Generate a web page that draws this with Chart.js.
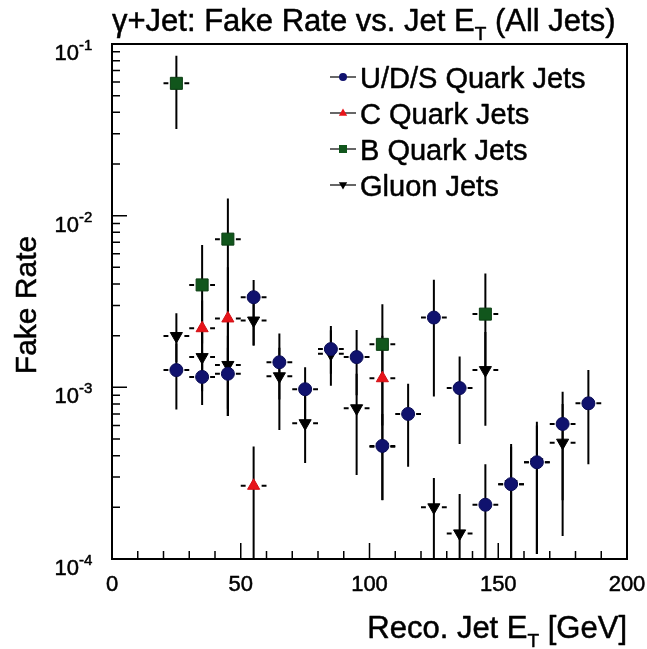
<!DOCTYPE html>
<html>
<head>
<meta charset="utf-8">
<script src="https://cdn.jsdelivr.net/npm/chart.js"></script>
<style>
  html, body { margin: 0; padding: 0; background: #fff; }
</style>
</head>
<body>
<canvas id="fakeRate" width="647" height="649"></canvas>
<script>
// Jet ET bin centres [GeV] and fake rates
const udsX  = [25, 35, 45, 55, 65, 75, 85, 95, 105, 115, 125, 135, 145, 155, 165, 175, 185];
const udsY  = [0.00126, 0.00115, 0.0012, 0.00335, 0.0014, 0.000975, 0.00167, 0.0015, 0.000456, 0.0007, 0.00255, 0.00099, 0.000207, 0.000273, 0.000366, 0.000612, 0.000807];
const udsHi = [0.0018, 0.0016, 0.0017, 0.00422, 0.00206, 0.00131, 0.00228, 0.00216, 0.0008, 0.00105, 0.00423, 0.00151, 0.000356, 0.000467, 0.00063, 0.000944, 0.00126];
const udsLo = [0.000744, 0.00079, 0.00068, 0.00175, 0.00085, 0.00065, 0.0012, 0.0009, 0.000221, 0.000345, 0.000883, 0.000467, 0.00001, 0.00001, 0.000107, 0.00022, 0.000356];

const cX  = [35, 45, 55, 105];
const cY  = [0.00221, 0.00252, 0.000267, 0.00113];
const cHi = [0.0032, 0.005, 0.000452, 0.002];
const cLo = [0.0012, 0.00068, 0.00001, 0.0006];

const bX  = [25, 35, 45, 105, 145];
const bY  = [0.059, 0.00395, 0.0073, 0.00178, 0.00267];
const bHi = [0.0855, 0.00675, 0.0126, 0.00305, 0.00461];
const bLo = [0.032, 0.0018, 0.00068, 0.0008, 0.0012];

const gX  = [25, 35, 45, 55, 65, 75, 85, 95, 105, 125, 135, 145, 155, 165, 175];
const gY  = [0.00199, 0.0015, 0.00135, 0.00245, 0.00116, 0.000618, 0.00157, 0.000755, 0.00045, 0.0002, 0.000141, 0.00126, 0.000273, 0.000366, 0.000476];
const gHi = [0.0027, 0.0021, 0.002, 0.0033, 0.0017, 0.0009, 0.00215, 0.0012, 0.0007, 0.000296, 0.000239, 0.0021, 0.00045, 0.0006, 0.0008];
const gLo = [0.0014, 0.00095, 0.00075, 0.00175, 0.000565, 0.000362, 0.00102, 0.000309, 0.00022, 0.00001, 0.00001, 0.000598, 0.00001, 0.000107, 0.000136];

const seriesLabels = ['U/D/S Quark Jets', 'C Quark Jets', 'B Quark Jets', 'Gluon Jets'];
const xTickLabels = [0, 50, 100, 150, 200];
const yTickExponents = [-1, -2, -3, -4];
const binHalfWidth = 5;

const FONT = '"Liberation Sans", Arial, Helvetica, sans-serif';

function pts(xs, ys) {
  return xs.map((x, i) => ({ x: x, y: ys[i] }));
}

// text a bit heavier, like the scanned original
function inkText(ctx, s, x, y) {
  ctx.fillText(s, x, y);
  ctx.strokeText(s, x, y);
}

// marker drawing (used for the legend)
function drawMarker(ctx, style, x, y, r, fill) {
  ctx.save();
  ctx.fillStyle = fill;
  ctx.beginPath();
  if (style === 'circle') {
    ctx.arc(x, y, r, 0, Math.PI * 2);
  } else if (style === 'rect') {
    ctx.rect(x - r, y - r, 2 * r, 2 * r);
  } else if (style === 'triangle') {
    ctx.moveTo(x, y - r * 1.1);
    ctx.lineTo(x + r * 1.05, y + r * 0.7);
    ctx.lineTo(x - r * 1.05, y + r * 0.7);
  } else {
    ctx.moveTo(x, y + r * 1.1);
    ctx.lineTo(x + r * 1.05, y - r * 0.7);
    ctx.lineTo(x - r * 1.05, y - r * 0.7);
  }
  ctx.closePath();
  ctx.fill();
  ctx.restore();
}

// error bars, ROOT style: vertical bar + short horizontal bin-width dashes
const errorBars = {
  id: 'errorBars',
  beforeDatasetsDraw(chart) {
    const ctx = chart.ctx, xs = chart.scales.x, ys = chart.scales.y, a = chart.chartArea;
    ctx.save();
    ctx.beginPath();
    ctx.rect(a.left, a.top, a.right - a.left, a.bottom - a.top);
    ctx.clip();
    ctx.strokeStyle = '#000';
    ctx.lineWidth = 2;
    chart.data.datasets.forEach(ds => {
      const gap = ds.markerHalf + 2;
      ds.data.forEach((p, i) => {
        const px = xs.getPixelForValue(p.x);
        const py = ys.getPixelForValue(p.y);
        const hi = ys.getPixelForValue(ds.errHi[i]);
        const lo = ys.getPixelForValue(ds.errLo[i]);
        const xl = xs.getPixelForValue(p.x - binHalfWidth);
        const xr = xs.getPixelForValue(p.x + binHalfWidth);
        ctx.beginPath();
        ctx.moveTo(px, hi); ctx.lineTo(px, lo);
        ctx.moveTo(xl, py); ctx.lineTo(px - gap, py);
        ctx.moveTo(px + gap, py); ctx.lineTo(xr, py);
        ctx.stroke();
      });
    });
    ctx.restore();
  }
};

// frame, inward ticks, labels, titles, legend
const rootFrame = {
  id: 'rootFrame',
  afterDraw(chart) {
    const ctx = chart.ctx, xs = chart.scales.x, ys = chart.scales.y, a = chart.chartArea;
    ctx.save();
    ctx.strokeStyle = '#000';
    ctx.fillStyle = '#000';

    // ticks
    ctx.lineWidth = 1.5;
    ctx.beginPath();
    for (let v = 0; v <= 200; v += 10) {
      const px = xs.getPixelForValue(v);
      const len = v % 50 === 0 ? 16 : 8;
      ctx.moveTo(px, a.bottom); ctx.lineTo(px, a.bottom - len);
    }
    for (let e = -4; e < -1; e++) {
      for (let m = 1; m <= 9; m++) {
        const py = ys.getPixelForValue(m * Math.pow(10, e));
        const len = m === 1 ? 15 : 8;
        ctx.moveTo(a.left, py); ctx.lineTo(a.left + len, py);
      }
    }
    ctx.stroke();

    // frame
    ctx.lineWidth = 2;
    ctx.strokeRect(a.left, a.top, a.right - a.left, a.bottom - a.top);

    ctx.lineWidth = 0.5;
    ctx.lineJoin = 'round';

    // x tick labels
    ctx.font = '22px ' + FONT;
    ctx.textAlign = 'center';
    ctx.textBaseline = 'alphabetic';
    xTickLabels.forEach(v => {
      inkText(ctx, String(v), xs.getPixelForValue(v), a.bottom + 32);
    });

    // y tick labels 10^n
    yTickExponents.forEach(e => {
      const py = ys.getPixelForValue(Math.pow(10, e));
      ctx.font = '22px ' + FONT;
      ctx.textAlign = 'right';
      inkText(ctx, '10', 79, py + 16);
      ctx.font = '15px ' + FONT;
      ctx.textAlign = 'left';
      inkText(ctx, String(e), 79, py + 6);
    });

    // text with a subscript part
    function subText(parts, x, y, size, align) {
      ctx.textAlign = 'left';
      let total = 0;
      parts.forEach(p => {
        ctx.font = (p.sub ? Math.round(size * 0.62) : size) + 'px ' + FONT;
        total += ctx.measureText(p.t).width;
      });
      let cx = align === 'right' ? x - total : x;
      parts.forEach(p => {
        ctx.font = (p.sub ? Math.round(size * 0.62) : size) + 'px ' + FONT;
        inkText(ctx, p.t, cx, p.sub ? y + size * 0.3 : y);
        cx += ctx.measureText(p.t).width;
      });
    }
    subText([{ t: '\u03b3+Jet: Fake Rate vs. Jet E' }, { t: 'T', sub: true }, { t: ' (All Jets)' }], 112, 31, 31, 'left');
    subText([{ t: 'Reco. Jet E' }, { t: 'T', sub: true }, { t: ' [GeV]' }], 627, 638, 31, 'right');

    // y title
    ctx.save();
    ctx.translate(36, 305);
    ctx.rotate(-Math.PI / 2);
    ctx.font = '30px ' + FONT;
    ctx.textAlign = 'center';
    inkText(ctx, 'Fake Rate', 0, 0);
    ctx.restore();

    // legend
    ctx.font = '29px ' + FONT;
    ctx.textAlign = 'left';
    ctx.textBaseline = 'alphabetic';
    chart.data.datasets.forEach((ds, i) => {
      const y = 77 + i * 36;
      ctx.lineWidth = 1.2;
      ctx.beginPath();
      ctx.moveTo(330, y); ctx.lineTo(356, y);
      ctx.stroke();
      drawMarker(ctx, ds.pointStyle === 'triangle' && ds.pointRotation ? 'down' : ds.pointStyle, 343, y, 4, ds.backgroundColor);
      ctx.fillStyle = '#000';
      ctx.lineWidth = 0.5;
      inkText(ctx, ds.label, 360, y + 11);
    });
    ctx.restore();
  }
};

new Chart(document.getElementById('fakeRate'), {
  type: 'scatter',
  data: {
    datasets: [
      { label: seriesLabels[0], data: pts(udsX, udsY), errLo: udsLo, errHi: udsHi, markerHalf: 6,
        pointStyle: 'circle', pointRadius: 6.5, backgroundColor: '#10126e', borderColor: '#0a0c55', borderWidth: 1 },
      { label: seriesLabels[1], data: pts(cX, cY), errLo: cLo, errHi: cHi, markerHalf: 6,
        pointStyle: 'triangle', pointRadius: 7, backgroundColor: '#e8141a', borderColor: '#d01015', borderWidth: 1 },
      { label: seriesLabels[2], data: pts(bX, bY), errLo: bLo, errHi: bHi, markerHalf: 6,
        pointStyle: 'rect', pointRadius: 8.5, backgroundColor: '#11561c', borderColor: '#0b3d12', borderWidth: 1 },
      { label: seriesLabels[3], data: pts(gX, gY), errLo: gLo, errHi: gHi, markerHalf: 6,
        pointStyle: 'triangle', pointRotation: 180, pointRadius: 7, backgroundColor: '#000', borderColor: '#000', borderWidth: 1 }
    ]
  },
  options: {
    responsive: false,
    animation: false,
    layout: { padding: { left: 112, right: 20, top: 44, bottom: 90 } },
    scales: {
      x: { type: 'linear', min: 0, max: 200, display: false },
      y: { type: 'logarithmic', min: 1e-4, max: 1e-1, display: false }
    },
    plugins: {
      legend: { display: false },
      tooltip: { enabled: false }
    }
  },
  plugins: [errorBars, rootFrame]
});
</script>
</body>
</html>
